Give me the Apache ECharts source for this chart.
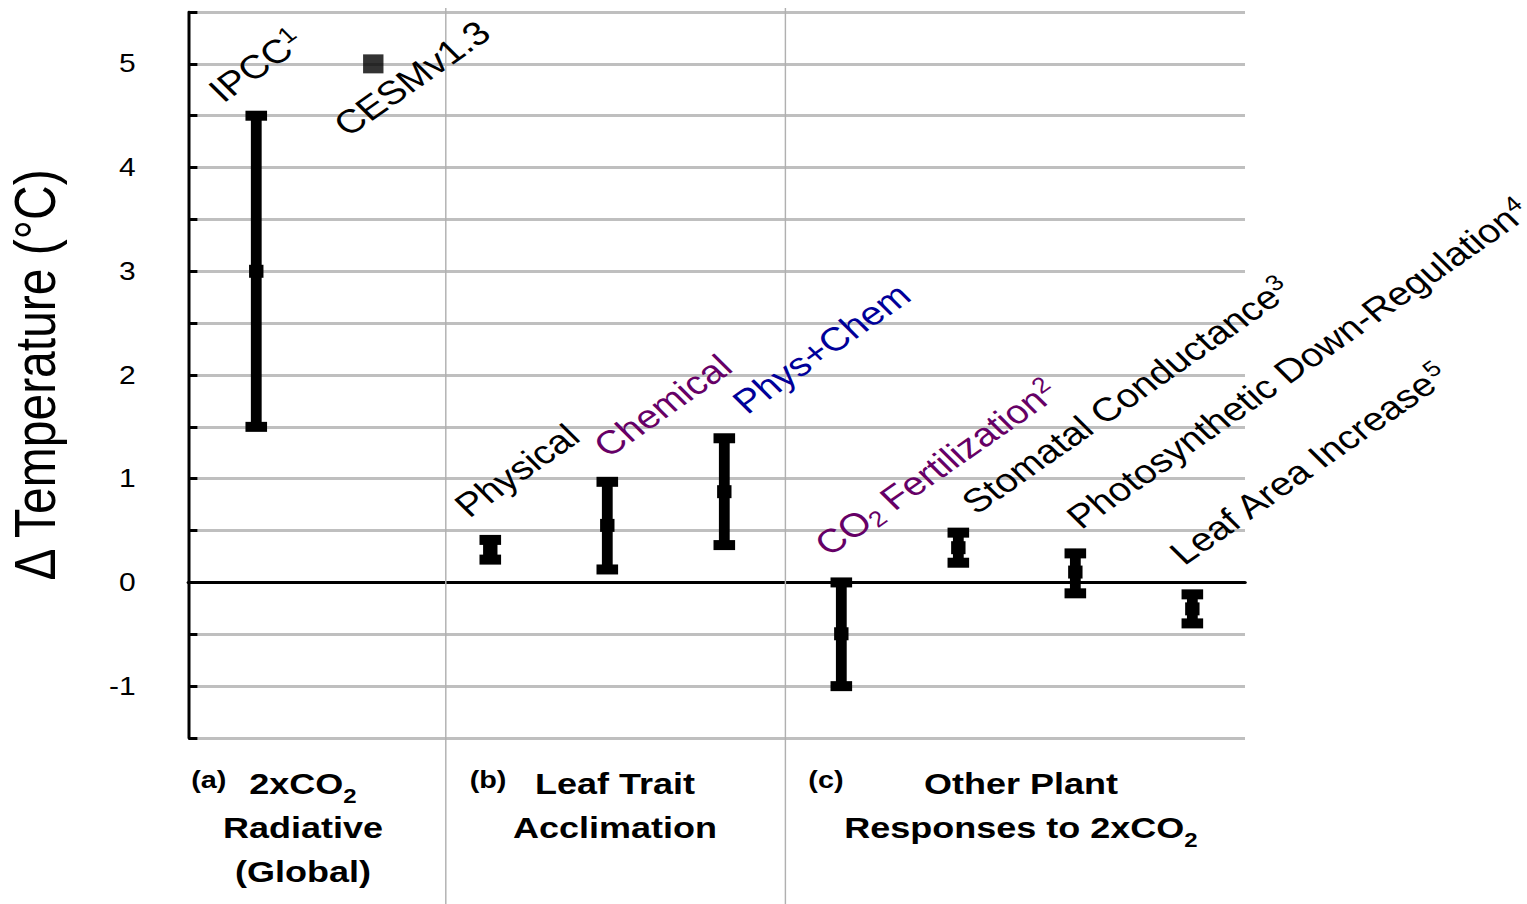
<!DOCTYPE html>
<html><head><meta charset="utf-8">
<script src="https://cdn.jsdelivr.net/npm/echarts@6.0.0/dist/echarts.min.js"></script>
<style>
html,body{margin:0;padding:0;background:#fff;overflow:hidden;}
#wrap{width:1527px;height:904px;overflow:hidden;position:relative;}
#chart{width:1273px;height:904px;transform:scaleX(1.2);transform-origin:0 0;}
</style></head><body><div id="wrap"><div id="chart"></div></div>
<script>
// ---------- data ----------
const categories = ['IPCC','CESMv1.3','Physical','Chemical','Phys+Chem','CO2 Fertilization','Stomatal Conductance','Photosynthetic Down-Regulation','Leaf Area Increase'];
const labelTexts = ['IPCC{sup|1}','CESMv1.3','Physical','Chemical','Phys+Chem','CO{sub|2} Fertilization{sup|2}','Stomatal Conductance{sup|3}','Photosynthetic Down-Regulation{sup|4}','Leaf Area Increase{sup|5}'];
const lowValues  = [1.5, null, 0.22, 0.125, 0.36, -1.0, 0.19, -0.105, -0.395];
const highValues = [4.5, null, 0.41, 0.97, 1.39, 0.0, 0.48, 0.28, -0.115];
const midValues  = [3.0, 5.0, 0.32, 0.55, 0.875, -0.495, 0.335, 0.10, -0.255];
const yTickLabels = ['-1','0','1','2','3','4','5'];
const groupTags = ['(a)','(b)','(c)'];
const groupTitles = ['{b|2xCO}{bs|2}\n{b|Radiative}\n{b|(Global)}','{b|Leaf Trait}\n{b|Acclimation}','{b|Other Plant}\n{b|Responses to 2xCO}{bs|2}'];

// ---------- style / layout ----------
const K = 1.2;                       // horizontal stretch of the page
const FONT = 'Arial, Liberation Sans, sans-serif';
const labelColors = ['#000','#000','#000','#660066','#000099','#660066','#000','#000','#000'];
const labelOffsets = [[-34,-13],[-26,73],[-22,-22],[0,-24],[22,-24],[-13,-26],[17,-18],[5,-24],[-9,-29]]; // screen px from anchor
const LABEL_ANGLE = 40;
const LABEL_SIZE = 33;
const separators = [2.615, 5.52];
const X_MIN = 0.42, X_MAX = 9.45;
const tagPos = [[174,780],[406.7,780],[688.3,780]];
const titlePos = [[252.5,762],[512.5,762],[850.8,762]];

const barData = [], squareData = [], labelData = [];
categories.forEach((c, i) => {
  const x = i + 1;
  if (lowValues[i] != null) barData.push([x, lowValues[i], highValues[i], midValues[i]]);
  else squareData.push([x, midValues[i]]);
  labelData.push([x, highValues[i] != null ? highValues[i] : midValues[i]]);
});

function renderBar(params, api) {
  const x = api.value(0);
  const pLo = api.coord([x, api.value(1)]);
  const pHi = api.coord([x, api.value(2)]);
  const pMid = api.coord([x, api.value(3)]);
  const bw = 9, cw = 18, ch = 10, mw = 12, mh = 13;
  const st = { fill: '#000' };
  return { type: 'group', children: [
    { type: 'rect', shape: { x: pHi[0] - bw / 2, y: pHi[1], width: bw, height: pLo[1] - pHi[1] }, style: st },
    { type: 'rect', shape: { x: pHi[0] - cw / 2, y: pHi[1] - ch / 2, width: cw, height: ch }, style: st },
    { type: 'rect', shape: { x: pLo[0] - cw / 2, y: pLo[1] - ch / 2, width: cw, height: ch }, style: st },
    { type: 'rect', shape: { x: pMid[0] - mw / 2, y: pMid[1] - mh / 2, width: mw, height: mh }, style: st }
  ]};
}

function renderLabel(params, api) {
  const i = params.dataIndex;
  const p = api.coord([api.value(0), api.value(1)]);
  const ang = LABEL_ANGLE * Math.PI / 180;
  const d = 8.4;
  const col = labelColors[i];
  return {
    type: 'text',
    x: p[0] + labelOffsets[i][0] / K + d * Math.sin(ang),
    y: p[1] + labelOffsets[i][1] + d * Math.cos(ang),
    rotation: ang,
    style: {
      text: labelTexts[i], fill: col, fontSize: LABEL_SIZE, fontFamily: FONT,
      align: 'left', verticalAlign: 'bottom', lineHeight: 37,
      rich: {
        sup: { fontSize: 22, lineHeight: 22, verticalAlign: 'top', fill: col, fontFamily: FONT },
        sub: { fontSize: 22, lineHeight: 20, verticalAlign: 'bottom', fill: col, fontFamily: FONT }
      }
    }
  };
}

const graphics = [];
groupTags.forEach((t, i) => graphics.push({
  type: 'text', x: tagPos[i][0], y: tagPos[i][1],
  style: { text: t, fontSize: 24, fontWeight: 'bold', fontFamily: FONT, fill: '#000', align: 'center', verticalAlign: 'middle' }
}));
groupTitles.forEach((t, i) => graphics.push({
  type: 'text', x: titlePos[i][0], y: titlePos[i][1],
  style: { text: t, align: 'center', verticalAlign: 'top', fill: '#000', fontFamily: FONT,
    rich: {
      b: { fontSize: 30, fontWeight: 'bold', fontFamily: FONT, lineHeight: 44, fill: '#000' },
      bs: { fontSize: 20, fontWeight: 'bold', fontFamily: FONT, lineHeight: 20, verticalAlign: 'bottom', fill: '#000' }
    } }
}));

const chart = echarts.init(document.getElementById('chart'), null, { renderer: 'svg' });
chart.setOption({
  animation: false,
  backgroundColor: '#fff',
  textStyle: { fontFamily: FONT },
  grid: [
    { left: 157, right: 235.5, top: 12, bottom: 166, outerBoundsMode: 'none' },
    { left: 157, right: 235.5, top: 8, bottom: 0, outerBoundsMode: 'none' }
  ],
  xAxis: [
    { type: 'value', gridIndex: 0, min: X_MIN, max: X_MAX,
      axisLine: { show: true, onZero: true, lineStyle: { color: '#000', width: 3 } },
      axisTick: { show: false }, axisLabel: { show: false }, splitLine: { show: false } },
    { type: 'value', gridIndex: 1, min: X_MIN, max: X_MAX, show: false }
  ],
  yAxis: [
    { type: 'value', gridIndex: 0, min: -1.5, max: 5.5, interval: 0.5,
      name: 'Δ Temperature (°C)', nameLocation: 'middle', nameGap: 104,
      nameTextStyle: { fontSize: 48, color: '#000', fontFamily: FONT },
      axisLine: { show: true, lineStyle: { color: '#000', width: 2.5 } },
      axisTick: { show: true, inside: true, length: 7.5, lineStyle: { color: '#000', width: 3 } },
      axisLabel: { fontSize: 25, color: '#000', margin: 44, fontFamily: FONT, lineHeight: 25, padding: [0, 0, 8, 0],
        formatter: v => yTickLabels.includes(String(v)) ? String(v) : '' },
      splitLine: { show: true, lineStyle: { color: '#bfbfbf', width: 3 } } },
    { type: 'value', gridIndex: 1, min: 0, max: 1, show: false }
  ],
  series: [
    { type: 'line', xAxisIndex: 1, yAxisIndex: 1, data: [], silent: true,
      markLine: { silent: true, symbol: 'none', label: { show: false },
        lineStyle: { color: '#b0b0b0', width: 1.2, type: 'solid' },
        data: separators.map(v => ({ xAxis: v })) } },
    { type: 'custom', xAxisIndex: 0, yAxisIndex: 0, renderItem: renderBar, data: barData, clip: false, z: 5 },
    { type: 'scatter', xAxisIndex: 0, yAxisIndex: 0, data: squareData, symbol: 'rect', symbolSize: [17, 19],
      itemStyle: { color: '#000' }, z: 5 },
    { type: 'custom', xAxisIndex: 0, yAxisIndex: 0, renderItem: renderLabel, data: labelData, clip: false, z: 6 }
  ],
  graphic: graphics
});
</script></body></html>
